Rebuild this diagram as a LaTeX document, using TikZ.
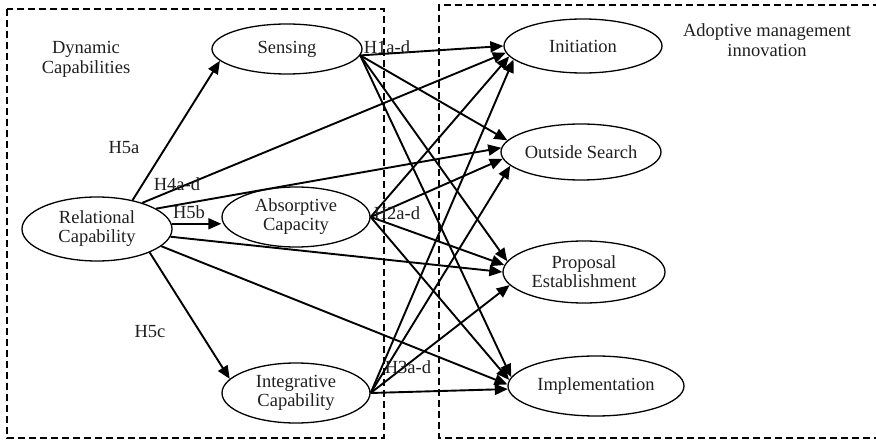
\documentclass[tikz,border=0pt]{standalone}
\usepackage{fontspec}
\setmainfont{Liberation Serif}
\usetikzlibrary{arrows.meta,shapes.geometric}
\begin{document}
\begin{tikzpicture}[x=1pt,y=-1pt,
  every node/.style={font=\fontsize{18.5pt}{21pt}\selectfont, text=black!88},
  construct/.style={draw, ellipse, line width=1.3pt, inner sep=0pt, align=center},
  arr/.style={line width=1.9pt, -{Triangle[length=13pt,width=11pt]}},
  frame/.style={line width=1.4pt, dash pattern=on 7pt off 4pt},
  hyp/.style={inner sep=0pt},
]
\useasboundingbox (0,0) rectangle (876,441);

% dashed group frames
\draw[frame] (7,9) rectangle (384,438);
\draw[frame] (880,5) -- (439,5) -- (439,438) -- (880,438);

% group captions
\node[align=center] (dyncap) at (86,59) {Dynamic\\[-1pt]Capabilities};
\node[align=center] (ami) at (767,40) {Adoptive management\\[-1pt]innovation};

% dynamic capabilities
\node[construct, minimum width=150pt, minimum height=50pt] (sens) at (287,49) {Sensing};
\node[construct, minimum width=150pt, minimum height=64pt] (rel) at (97,229) {Relational\\[-2pt]Capability};
\node[construct, minimum width=148pt, minimum height=60pt] (abs) at (296,217) {Absorptive\\[-2pt]Capacity};
\node[construct, minimum width=148pt, minimum height=60pt] (int) at (296,393) {Integrative\\[-2pt]Capability};

% adoptive management innovation stages
\node[construct, minimum width=158pt, minimum height=54pt] (init) at (583,46) {Initiation};
\node[construct, minimum width=160pt, minimum height=56pt] (os) at (581,152) {Outside Search};
\node[construct, minimum width=162pt, minimum height=62pt] (pe) at (584,272) {Proposal\\[-2pt]Establishment};
\node[construct, minimum width=176pt, minimum height=60pt] (im) at (596,386) {Implementation};

% relational capability paths (H4, H5)
\draw[arr] (rel.39) -- (sens.190);
\draw[arr] (rel.4) -- (rel.4 -| abs.west);
\draw[arr] (rel.-24) -- (int.168);
\draw[arr] (rel.30) -- (init.185);
\draw[arr] (rel.19) -- (os.177);
\draw[arr] (rel.-6) -- (pe.180);
\draw[arr] (rel.-15) -- (im.179);

% sensing paths (H1)
\draw[arr] (sens.-5) -- (init.180);
\draw[arr] (sens.-5) -- (os.171);
\draw[arr] (sens.-5) -- (pe.172);
\draw[arr] (sens.-5) -- (im.174);

% absorptive capacity paths (H2)
\draw[arr] (abs.east) -- (init.188);
\draw[arr] (abs.east) -- (os.185);
\draw[arr] (abs.east) -- (pe.175);
\draw[arr] (abs.east) -- (im.176);

% integrative capability paths (H3)
\draw[arr] (int.east) -- (init.191);
\draw[arr] (int.east) -- (os.191);
\draw[arr] (int.east) -- (pe.190);
\draw[arr] (int.east) -- (im.182);

% hypothesis labels
\node[hyp] (h5a) at (124,148) {H5a};
\node[hyp] (h4) at (177,184) {H4a-d};
\node[hyp] (h5b) at (189,212) {H5b};
\node[hyp] (h5c) at (150,332) {H5c};
\node[hyp] (h1) at (387,47) {H1a-d};
\node[hyp] (h2) at (397,213) {H2a-d};
\node[hyp] (h3) at (408,367) {H3a-d};
\end{tikzpicture}
\end{document}
